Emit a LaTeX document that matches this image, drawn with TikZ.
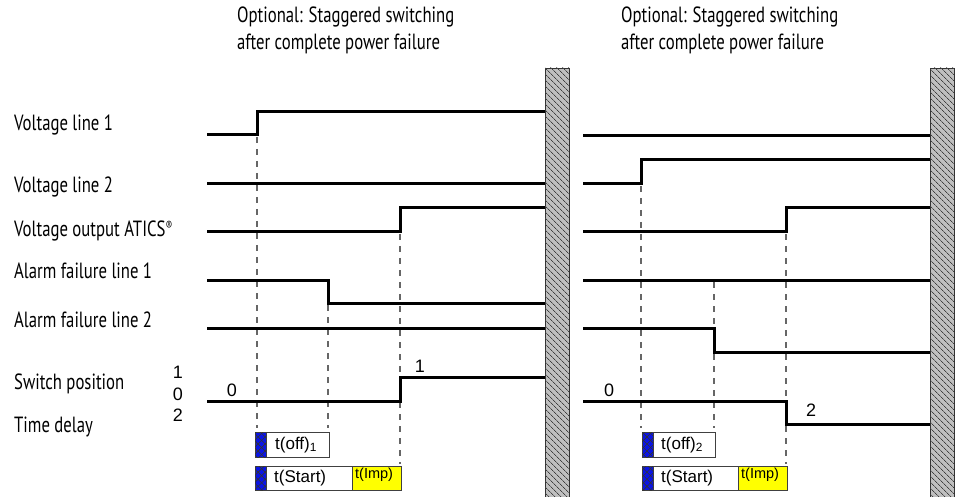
\documentclass[tikz,border=0pt]{standalone}
\usepackage{fontspec}
\setmainfont{Liberation Sans}
\newfontfamily\condfont[FakeStretch=0.76]{PT Sans}
\usetikzlibrary{patterns.meta}
\definecolor{boxblue}{RGB}{10,20,230}
\definecolor{boxyellow}{RGB}{255,255,0}
\begin{document}
\begin{tikzpicture}[x=1pt,y=-1pt,
 lbl/.style={font=\condfont\fontsize{22}{26}\selectfont, anchor=west, inner sep=0pt},
 ttl/.style={font=\condfont\fontsize{22}{27}\selectfont, anchor=north west, align=left, inner sep=0pt},
 sig/.style={line width=3pt, line join=miter, line cap=butt},
 dsh/.style={draw=black!60, line width=1.2pt, dash pattern=on 6pt off 6pt},
 wall/.style={draw=black!80, line width=0.8pt, fill=black!25,
   postaction={pattern={Lines[angle=-45,distance=4pt,line width=0.8pt]}, pattern color=black!75}},
 num/.style={font=\fontsize{18}{20}\selectfont, inner sep=0pt},
 tbox/.style={draw=black!75, line width=1pt, fill=white},
 ybox/.style={draw=black!75, line width=1pt, fill=boxyellow},
 bbox/.style={draw=black!75, line width=0.8pt, fill=boxblue,
   postaction={pattern={Lines[angle=45,distance=5pt,line width=0.6pt]}, pattern color=black!80},
   postaction={pattern={Lines[angle=-45,distance=5pt,line width=0.6pt]}, pattern color=black!80}},
 ttxt/.style={font=\fontsize{17}{19}\selectfont, inner sep=0pt, anchor=west},
 itxt/.style={font=\fontsize{14.5}{16}\selectfont, inner sep=0pt, anchor=west}
]
\useasboundingbox (0,0) rectangle (956,497);

% titles
\node[ttl] (title1) at (237,7) {Optional: Staggered switching\\after complete power failure};
\node[ttl] (title2) at (621,7) {Optional: Staggered switching\\after complete power failure};

% labels
\node[lbl] (l1) at (14,125) {Voltage line 1};
\node[lbl] (l2) at (14,187) {Voltage line 2};
\node[lbl] (l3) at (14,231) {Voltage output ATICS{\fontsize{13}{13}\selectfont\raisebox{6pt}{®}}};
\node[lbl] (l4) at (14,271) {Alarm failure line 1};
\node[lbl] (l5) at (14,320) {Alarm failure line 2};
\node[lbl] (l6) at (14,384) {Switch position};
\node[lbl] (l7) at (14,427) {Time delay};

\node[num] (n1) at (178,372) {1};
\node[num] (n0) at (178,394) {0};
\node[num] (n2) at (178,415) {2};

% dashed lines panel 1
\draw[dsh] (257,137) -- (257,428);
\draw[dsh] (328,305) -- (328,428);
\draw[dsh] (400,234) -- (400,464);
% dashed lines panel 2
\draw[dsh] (641,186) -- (641,428);
\draw[dsh] (714,282) -- (714,428);
\draw[dsh] (786,234) -- (786,464);

% signals panel 1
\draw[sig] (207,135) -- (257,135) -- (257,112) -- (546,112);
\draw[sig] (207,184) -- (546,184);
\draw[sig] (207,232) -- (400,232) -- (400,208) -- (546,208);
\draw[sig] (207,280) -- (328,280) -- (328,303) -- (546,303);
\draw[sig] (207,328) -- (546,328);
\draw[sig] (207,401) -- (400,401) -- (400,377) -- (546,377);
\node[num] (p1zero) at (232,390) {0};
\node[num] (p1one) at (420,366) {1};

% signals panel 2
\draw[sig] (583,136) -- (931,136);
\draw[sig] (583,184) -- (641,184) -- (641,160) -- (931,160);
\draw[sig] (583,232) -- (786,232) -- (786,208) -- (931,208);
\draw[sig] (583,280) -- (931,280);
\draw[sig] (583,328) -- (714,328) -- (714,352) -- (931,352);
\draw[sig] (583,401) -- (786,401) -- (786,424) -- (931,424);
\node[num] (p2zero) at (609,390) {0};
\node[num] (p2two) at (811,410) {2};

% walls
\draw[wall] (545,68) rectangle (569,498);
\draw[wall] (930,68) rectangle (954,498);

% time delay boxes panel 1
\draw[tbox] (255,432) rectangle (329,457);
\draw[bbox] (255,432) rectangle (266,457);
\node[ttxt] (toff1) at (275,445) {t(off)\textsubscript{1}};
\draw[tbox] (255,466) rectangle (352,490);
\draw[ybox] (352,466) rectangle (401,490);
\draw[bbox] (255,466) rectangle (266,490);
\node[ttxt] (tst1) at (274,478) {t(Start)};
\node[itxt] (timp1) at (355,475) {t(Imp)};

% time delay boxes panel 2
\draw[tbox] (642,432) rectangle (715,457);
\draw[bbox] (642,432) rectangle (653,457);
\node[ttxt] (toff2) at (661,445) {t(off)\textsubscript{2}};
\draw[tbox] (642,466) rectangle (738,490);
\draw[ybox] (738,466) rectangle (787,490);
\draw[bbox] (642,466) rectangle (653,490);
\node[ttxt] (tst2) at (661,478) {t(Start)};
\node[itxt] (timp2) at (741,475) {t(Imp)};
\end{tikzpicture}
\end{document}
